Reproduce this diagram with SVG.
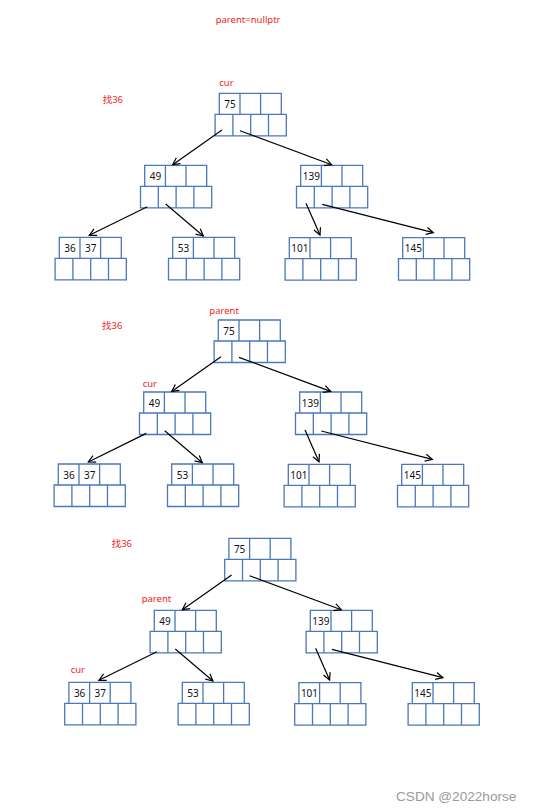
<svg xmlns="http://www.w3.org/2000/svg" xmlns:xlink="http://www.w3.org/1999/xlink" width="539" height="812" viewBox="0 0 539 812">
<style>
.box{fill:none;stroke:#4a78bd;stroke-width:1.3}
.k{font-family:"Noto Sans","Liberation Sans",sans-serif;font-size:10px;fill:#111}
.lab{font-family:"Noto Sans","Noto Sans CJK SC",sans-serif;font-size:9.5px;fill:#f01c1c}
.edge{stroke:#000;stroke-width:1.2;fill:none;marker-end:url(#ah)}
.wm{font-family:"Liberation Sans",Arial,sans-serif;font-size:13.6px;fill:#9a9a9a}
</style>
<defs>
<marker id="ah" markerUnits="userSpaceOnUse" markerWidth="12" markerHeight="12" viewBox="-9 -6 12 12" refX="0" refY="0" orient="auto">
<path d="M-7,-3.6 L0,0 L-7,3.6" fill="none" stroke="#000" stroke-width="1.2"/>
</marker>
<path id="nd" class="box" d="M0 0H62V21H0Z M20.7 0V21 M41.3 0V21 M-4.2 21H67V42.5H-4.2Z M13.6 21V42.5 M31.4 21V42.5 M49.2 21V42.5"/>
<g id="tree">
<g id="n75" transform="translate(219.3,93.3)"><use href="#nd"/><text class="k" x="5" y="14.5">75</text></g>
<g id="n49" transform="translate(144.7,165.3)"><use href="#nd"/><text class="k" x="5" y="14.5">49</text></g>
<g id="n139" transform="translate(300.7,165.3)"><use href="#nd"/><text class="k" x="2" y="14.5">139</text></g>
<g id="n3637" transform="translate(59.3,237.3)"><use href="#nd"/><text class="k" x="5" y="14.5">36</text><text class="k" x="25.7" y="14.5">37</text></g>
<g id="n53" transform="translate(172.7,237.3)"><use href="#nd"/><text class="k" x="5" y="14.5">53</text></g>
<g id="n101" transform="translate(289.3,237.7)"><use href="#nd"/><text class="k" x="2" y="14.5">101</text></g>
<g id="n145" transform="translate(402.7,237.7)"><use href="#nd"/><text class="k" x="2" y="14.5">145</text></g>
<g id="edges">
<line class="edge" x1="222" y1="130" x2="172.7" y2="164.7"/>
<line class="edge" x1="240" y1="130.7" x2="331.7" y2="164.7"/>
<line class="edge" x1="147.3" y1="206.7" x2="89.3" y2="235.3"/>
<line class="edge" x1="165.7" y1="204" x2="203.3" y2="236"/>
<line class="edge" x1="306" y1="203.3" x2="320" y2="235"/>
<line class="edge" x1="322.3" y1="204.3" x2="433.3" y2="232.7"/>
</g>
</g>
</defs>
<rect width="539" height="812" fill="#fff"/>
<g id="tree1"><use href="#tree"/></g>
<g id="tree2" transform="translate(-1,226.7)"><use href="#tree"/></g>
<g id="tree3" transform="translate(9.6,445)"><use href="#tree"/></g>
<g id="labels">
<text class="lab" x="215.7" y="22.5">parent=nullptr</text>
<text class="lab" x="219.3" y="86">cur</text>
<text class="lab" x="102.7" y="103">找36</text>
<text class="lab" x="209.3" y="314">parent</text>
<text class="lab" x="102" y="329.3">找36</text>
<text class="lab" x="142.7" y="386.7">cur</text>
<text class="lab" x="111.7" y="547.3">找36</text>
<text class="lab" x="141.7" y="601.7">parent</text>
<text class="lab" x="70.7" y="672.7">cur</text>
</g>
<text class="wm" x="396" y="801">CSDN @2022horse</text>
</svg>
